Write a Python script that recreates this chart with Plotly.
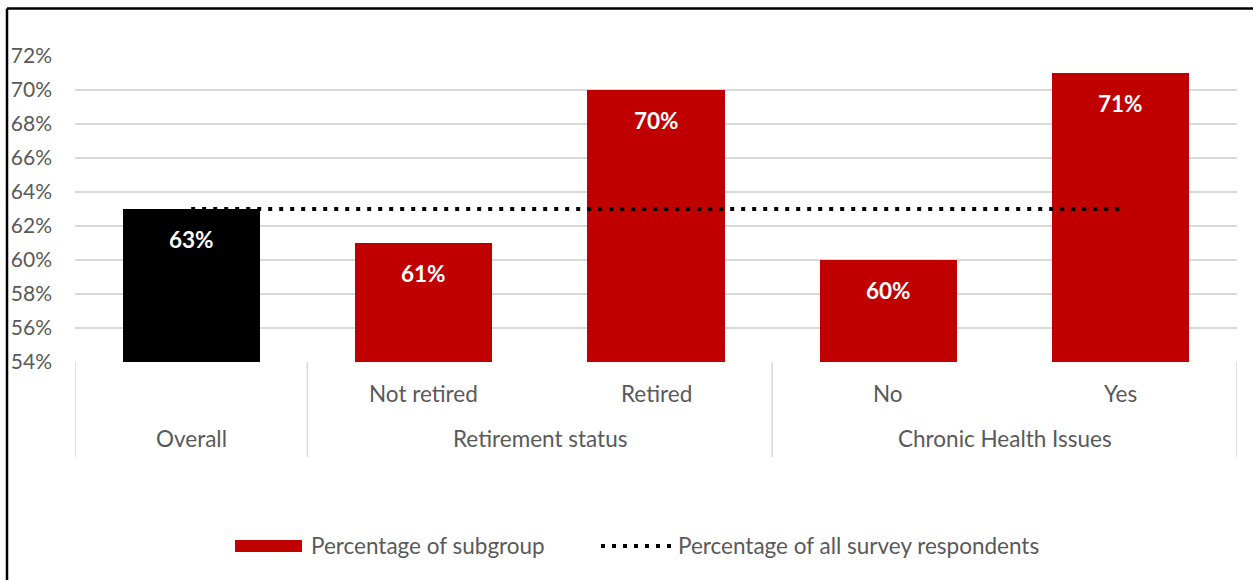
import plotly.graph_objects as go

# ---- data ----
groups = ["Overall", "Retirement status", "Retirement status",
          "Chronic Health Issues", "Chronic Health Issues"]
subgroups = ["", "Not retired", "Retired", "No", "Yes"]
subgroup_pct = [0.63, 0.61, 0.70, 0.60, 0.71]
all_respondents_pct = [0.63, 0.63, 0.63, 0.63, 0.63]
bar_colors = ["#000000", "#C00000", "#C00000", "#C00000", "#C00000"]
y_ticks = [0.54, 0.56, 0.58, 0.60, 0.62, 0.64, 0.66, 0.68, 0.70, 0.72]

W, H = 1253, 580
ML, MR, MT, MB = 75, 16, 56, 218
PW, PH = W - ML - MR, H - MT - MB
FONT = "Lato"
GREY = "#595959"
GRID = "#D9D9D9"
LABEL_SIZE = 22.5


def px(x):
    return (x - ML) / PW


def py(y):
    return (H - MB - y) / PH


xs = list(range(len(subgroups)))

fig = go.Figure()
fig.add_trace(go.Bar(
    x=xs, y=subgroup_pct, width=0.59,
    marker=dict(color=bar_colors, line=dict(width=0)),
    name="Percentage of subgroup", showlegend=False,
    hoverinfo="skip",
))
fig.add_trace(go.Scatter(
    x=xs, y=all_respondents_pct, mode="lines",
    line=dict(color="#000000", width=4, dash="4px,7px"),
    name="Percentage of all survey respondents", showlegend=False,
    hoverinfo="skip",
))

annotations = []
# value labels inside the top of each bar
for x, v in zip(xs, subgroup_pct):
    annotations.append(dict(
        x=x, y=v, xref="x", yref="y", text=f"<b>{v:.0%}</b>",
        showarrow=False, yshift=-30, yanchor="middle",
        font=dict(family=FONT, size=22.5, color="#FFFFFF"),
    ))

# two-level category labels
for x, s in zip(xs, subgroups):
    if s:
        annotations.append(dict(
            x=x, y=py(393), xref="x", yref="paper", text=s,
            showarrow=False, yanchor="middle",
            font=dict(family=FONT, size=LABEL_SIZE, color=GREY),
        ))
group_spans = {}
for x, g in zip(xs, groups):
    group_spans.setdefault(g, []).append(x)
for g, members in group_spans.items():
    annotations.append(dict(
        x=(members[0] + members[-1]) / 2, y=py(438), xref="x", yref="paper",
        text=g, showarrow=False, yanchor="middle",
        font=dict(family=FONT, size=LABEL_SIZE, color=GREY),
    ))

# legend text
annotations.append(dict(
    x=px(309), y=py(545), xref="paper", yref="paper",
    text="Percentage of subgroup", showarrow=False,
    xanchor="left", yanchor="middle",
    font=dict(family=FONT, size=LABEL_SIZE, color=GREY),
))
annotations.append(dict(
    x=px(676), y=py(545), xref="paper", yref="paper",
    text="Percentage of all survey respondents", showarrow=False,
    xanchor="left", yanchor="middle",
    font=dict(family=FONT, size=LABEL_SIZE, color=GREY),
))

shapes = []
# category dividers at group boundaries
bounds = [-0.5]
for members in group_spans.values():
    bounds.append(members[-1] + 0.5)
for b in bounds:
    shapes.append(dict(
        type="line", xref="x", yref="paper", x0=b, x1=b,
        y0=0, y1=py(457), line=dict(color=GRID, width=1.5),
    ))
# legend symbols
shapes.append(dict(
    type="rect", xref="paper", yref="paper",
    x0=px(235), x1=px(302), y0=py(552), y1=py(540),
    fillcolor="#C00000", line=dict(width=0),
))
shapes.append(dict(
    type="line", xref="paper", yref="paper",
    x0=px(601), x1=px(673), y0=py(546), y1=py(546),
    line=dict(color="#000000", width=4, dash="4px,7px"),
))
# chart frame
shapes.append(dict(
    type="line", xref="paper", yref="paper",
    x0=px(7), x1=px(W + 10), y0=py(8.5), y1=py(8.5),
    line=dict(color="#000000", width=2.5),
))
shapes.append(dict(
    type="line", xref="paper", yref="paper",
    x0=px(7), x1=px(7), y0=py(8.5), y1=py(H + 10),
    line=dict(color="#000000", width=2.5),
))

fig.update_layout(
    width=W, height=H,
    margin=dict(l=ML, r=MR, t=MT, b=MB, pad=0),
    paper_bgcolor="#FFFFFF", plot_bgcolor="#FFFFFF",
    showlegend=False,
    bargap=0,
    annotations=annotations,
    shapes=shapes,
    xaxis=dict(
        range=[-0.5, 4.5], showticklabels=False, showgrid=False,
        zeroline=False, showline=False, ticks="", fixedrange=True,
    ),
    yaxis=dict(
        range=[0.54, 0.72], tickvals=y_ticks, tickformat=".0%",
        showgrid=True, gridcolor=GRID, gridwidth=1.5,
        zeroline=False, showline=False, ticks="",
        ticklabelstandoff=22,
        tickfont=dict(family=FONT, size=21, color=GREY),
        fixedrange=True,
    ),
    font=dict(family=FONT, color=GREY),
)

fig.write_html("out.html")
